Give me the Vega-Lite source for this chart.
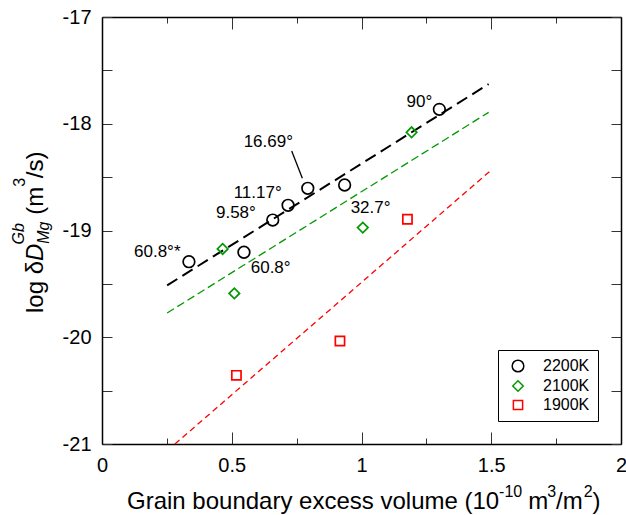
{
  "$schema": "https://vega.github.io/schema/vega-lite/v6.json",
  "width": 519,
  "height": 427,
  "autosize": {"type": "none"},
  "padding": {"left": 102, "top": 17, "right": 5, "bottom": 71},
  "config": {
    "view": {"stroke": null},
    "font": "Liberation Sans",
    "axis": {
      "title": null,
      "domainColor": "black",
      "domainWidth": 1.5,
      "ticks": true,
      "tickColor": "#333333",
      "tickWidth": 1,
      "grid": false,
      "labelFontSize": 20,
      "labelColor": "black",
      "labelFlush": false,
      "labelOverlap": false
    },
    "text": {"font": "Liberation Sans", "color": "black"}
  },
  "datasets": {
    "points": [
      {"T": "2200K", "x": 0.335, "y": -19.292},
      {"T": "2200K", "x": 0.547, "y": -19.204},
      {"T": "2200K", "x": 0.658, "y": -18.902},
      {"T": "2200K", "x": 0.717, "y": -18.764},
      {"T": "2200K", "x": 0.793, "y": -18.605},
      {"T": "2200K", "x": 0.935, "y": -18.574},
      {"T": "2200K", "x": 1.300, "y": -17.865},
      {"T": "2100K", "x": 0.465, "y": -19.173},
      {"T": "2100K", "x": 0.510, "y": -19.589},
      {"T": "2100K", "x": 1.005, "y": -18.973},
      {"T": "2100K", "x": 1.193, "y": -18.080},
      {"T": "1900K", "x": 0.518, "y": -20.357},
      {"T": "1900K", "x": 0.917, "y": -20.035},
      {"T": "1900K", "x": 1.177, "y": -18.895}
    ],
    "black_fit": [{"x": 0.251, "y": -19.514}, {"x": 1.490, "y": -17.628}],
    "green_fit": [{"x": 0.251, "y": -19.773}, {"x": 1.490, "y": -17.893}],
    "red_fit": [{"x": 0.281, "y": -21.0}, {"x": 1.497, "y": -18.44}],
    "labels": [
      {"label": "90°", "x": 1.223, "y": -17.793},
      {"label": "16.69°", "x": 0.641, "y": -18.168},
      {"label": "11.17°", "x": 0.600, "y": -18.646},
      {"label": "9.58°", "x": 0.516, "y": -18.839},
      {"label": "60.8°*", "x": 0.213, "y": -19.204},
      {"label": "60.8°", "x": 0.650, "y": -19.354},
      {"label": "32.7°", "x": 1.035, "y": -18.792}
    ],
    "leader": [{"x": 0.731, "y": -18.255, "x2": 0.772, "y2": -18.511}]
  },
  "layer": [
    {
      "data": {"name": "points"},
      "mark": {"type": "point", "opacity": 0},
      "encoding": {
        "x": {"field": "x", "type": "quantitative", "scale": {"domain": [0, 2]},
          "axis": {"orient": "bottom", "values": [0, 0.25, 0.5, 0.75, 1, 1.25, 1.5, 1.75, 2],
            "labelExpr": "datum.value % 0.5 == 0 ? toString(datum.value) : ''",
            "tickSize": -12, "labelPadding": 23,
            "tickDash": {"condition": {"test": "datum.value % 0.5 == 0", "value": [12, 100]}, "value": [6, 100]}}},
        "y": {"field": "y", "type": "quantitative", "scale": {"domain": [-21, -17]},
          "axis": {"orient": "left", "values": [-21, -20.5, -20, -19.5, -19, -18.5, -18, -17.5, -17],
            "labelExpr": "datum.value % 1 == 0 ? toString(datum.value) : ''",
            "tickSize": -10, "labelPadding": 21}}
      }
    },
    {
      "data": {"name": "points"},
      "mark": {"type": "point", "opacity": 0},
      "encoding": {
        "x": {"field": "x", "type": "quantitative", "scale": {"domain": [0, 2]},
          "axis": {"orient": "top", "values": [0, 0.25, 0.5, 0.75, 1, 1.25, 1.5, 1.75, 2], "labels": false,
            "tickSize": -12,
            "tickDash": {"condition": {"test": "datum.value % 0.5 == 0", "value": [12, 100]}, "value": [6, 100]}}},
        "y": {"field": "y", "type": "quantitative", "scale": {"domain": [-21, -17]},
          "axis": {"orient": "right", "values": [-21, -20.5, -20, -19.5, -19, -18.5, -18, -17.5, -17], "labels": false,
            "tickSize": -10}}
      }
    },
    {
      "data": {"name": "black_fit"},
      "mark": {"type": "line", "color": "black", "strokeWidth": 2, "strokeDash": [12, 6]},
      "encoding": {
        "x": {"field": "x", "type": "quantitative", "scale": {"domain": [0, 2]}, "axis": null},
        "y": {"field": "y", "type": "quantitative", "scale": {"domain": [-21, -17]}, "axis": null}
      }
    },
    {
      "data": {"name": "green_fit"},
      "mark": {"type": "line", "color": "#009900", "strokeWidth": 1.3, "strokeDash": [8, 4]},
      "encoding": {
        "x": {"field": "x", "type": "quantitative", "scale": {"domain": [0, 2]}, "axis": null},
        "y": {"field": "y", "type": "quantitative", "scale": {"domain": [-21, -17]}, "axis": null}
      }
    },
    {
      "data": {"name": "red_fit"},
      "mark": {"type": "line", "color": "#ff0000", "strokeWidth": 1.3, "strokeDash": [6, 4]},
      "encoding": {
        "x": {"field": "x", "type": "quantitative", "scale": {"domain": [0, 2]}, "axis": null},
        "y": {"field": "y", "type": "quantitative", "scale": {"domain": [-21, -17]}, "axis": null}
      }
    },
    {
      "data": {"name": "points"},
      "mark": {"type": "point", "filled": false, "opacity": 1, "strokeWidth": 1.7},
      "encoding": {
        "x": {"field": "x", "type": "quantitative", "scale": {"domain": [0, 2]}, "axis": null},
        "y": {"field": "y", "type": "quantitative", "scale": {"domain": [-21, -17]}, "axis": null},
        "color": {"field": "T", "type": "nominal",
          "scale": {"domain": ["2200K", "2100K", "1900K"], "range": ["black", "#009900", "#ff0000"]},
          "legend": {"orient": "none", "legendX": 396, "legendY": 333, "title": null, "strokeColor": "black",
            "fillColor": "white", "padding": 8, "labelFontSize": 16, "labelColor": "black", "symbolSize": 100,
            "symbolStrokeWidth": 1.5, "rowPadding": 2, "labelOffset": 17, "symbolOffset": 4}},
        "shape": {"field": "T", "type": "nominal",
          "scale": {"domain": ["2200K", "2100K", "1900K"], "range": ["circle", "diamond", "square"]},
          "legend": {"orient": "none", "legendX": 396, "legendY": 333, "title": null, "strokeColor": "black",
            "fillColor": "white", "padding": 8, "labelFontSize": 16, "labelColor": "black", "symbolSize": 100,
            "symbolStrokeWidth": 1.5, "rowPadding": 2, "labelOffset": 17, "symbolOffset": 4}},
        "size": {"field": "T", "type": "ordinal",
          "scale": {"domain": ["2200K", "2100K", "1900K"], "range": [135, 85, 85]}, "legend": null}
      }
    },
    {
      "data": {"name": "labels"},
      "mark": {"type": "text", "fontSize": 17, "align": "center", "baseline": "middle"},
      "encoding": {
        "x": {"field": "x", "type": "quantitative", "scale": {"domain": [0, 2]}, "axis": null},
        "y": {"field": "y", "type": "quantitative", "scale": {"domain": [-21, -17]}, "axis": null},
        "text": {"field": "label"}
      }
    },
    {
      "data": {"name": "leader"},
      "mark": {"type": "rule", "color": "black", "strokeWidth": 1.3},
      "encoding": {
        "x": {"field": "x", "type": "quantitative", "scale": {"domain": [0, 2]}, "axis": null},
        "y": {"field": "y", "type": "quantitative", "scale": {"domain": [-21, -17]}, "axis": null},
        "x2": {"field": "x2"},
        "y2": {"field": "y2"}
      }
    },
    {
      "data": {"values": [{}]},
      "mark": {"type": "text", "text": "log δ", "fontSize": 24, "angle": 270, "align": "left", "baseline": "alphabetic"},
      "encoding": {
        "x": {"datum": -0.2274, "type": "quantitative", "scale": {"domain": [0, 2]}, "axis": null},
        "y": {"datum": -19.773, "type": "quantitative", "scale": {"domain": [-21, -17]}, "axis": null}
      }
    },
    {
      "data": {"values": [{}]},
      "mark": {"type": "text", "text": "D", "fontSize": 24, "fontStyle": "italic", "angle": 270, "align": "left", "baseline": "alphabetic"},
      "encoding": {
        "x": {"datum": -0.2274, "type": "quantitative", "scale": {"domain": [0, 2]}, "axis": null},
        "y": {"datum": -19.286, "type": "quantitative", "scale": {"domain": [-21, -17]}, "axis": null}
      }
    },
    {
      "data": {"values": [{}]},
      "mark": {"type": "text", "text": "Gb", "fontSize": 16, "fontStyle": "italic", "angle": 270, "align": "left", "baseline": "alphabetic"},
      "encoding": {
        "x": {"datum": -0.3006, "type": "quantitative", "scale": {"domain": [0, 2]}, "axis": null},
        "y": {"datum": -19.13, "type": "quantitative", "scale": {"domain": [-21, -17]}, "axis": null}
      }
    },
    {
      "data": {"values": [{}]},
      "mark": {"type": "text", "text": "Mg", "fontSize": 16, "fontStyle": "italic", "angle": 270, "align": "left", "baseline": "alphabetic"},
      "encoding": {
        "x": {"datum": -0.2042, "type": "quantitative", "scale": {"domain": [0, 2]}, "axis": null},
        "y": {"datum": -19.124, "type": "quantitative", "scale": {"domain": [-21, -17]}, "axis": null}
      }
    },
    {
      "data": {"values": [{}]},
      "mark": {"type": "text", "text": "(m", "fontSize": 24, "angle": 270, "align": "left", "baseline": "alphabetic"},
      "encoding": {
        "x": {"datum": -0.2274, "type": "quantitative", "scale": {"domain": [0, 2]}, "axis": null},
        "y": {"datum": -18.853, "type": "quantitative", "scale": {"domain": [-21, -17]}, "axis": null}
      }
    },
    {
      "data": {"values": [{}]},
      "mark": {"type": "text", "text": "3", "fontSize": 16, "angle": 270, "align": "left", "baseline": "alphabetic"},
      "encoding": {
        "x": {"datum": -0.2966, "type": "quantitative", "scale": {"domain": [0, 2]}, "axis": null},
        "y": {"datum": -18.591, "type": "quantitative", "scale": {"domain": [-21, -17]}, "axis": null}
      }
    },
    {
      "data": {"values": [{}]},
      "mark": {"type": "text", "text": "/s)", "fontSize": 24, "angle": 270, "align": "left", "baseline": "alphabetic"},
      "encoding": {
        "x": {"datum": -0.2274, "type": "quantitative", "scale": {"domain": [0, 2]}, "axis": null},
        "y": {"datum": -18.51, "type": "quantitative", "scale": {"domain": [-21, -17]}, "axis": null}
      }
    },
    {
      "data": {"values": [{}]},
      "mark": {"type": "text", "text": "Grain boundary excess volume (10", "fontSize": 24, "align": "left", "baseline": "alphabetic"},
      "encoding": {
        "x": {"datum": 0.0963, "type": "quantitative", "scale": {"domain": [0, 2]}, "axis": null},
        "y": {"datum": -21.609, "type": "quantitative", "scale": {"domain": [-21, -17]}, "axis": null}
      }
    },
    {
      "data": {"values": [{}]},
      "mark": {"type": "text", "text": "-10", "fontSize": 16, "align": "left", "baseline": "alphabetic"},
      "encoding": {
        "x": {"datum": 1.5303, "type": "quantitative", "scale": {"domain": [0, 2]}, "axis": null},
        "y": {"datum": -21.496, "type": "quantitative", "scale": {"domain": [-21, -17]}, "axis": null}
      }
    },
    {
      "data": {"values": [{}]},
      "mark": {"type": "text", "text": "m", "fontSize": 24, "align": "left", "baseline": "alphabetic"},
      "encoding": {
        "x": {"datum": 1.643, "type": "quantitative", "scale": {"domain": [0, 2]}, "axis": null},
        "y": {"datum": -21.609, "type": "quantitative", "scale": {"domain": [-21, -17]}, "axis": null}
      }
    },
    {
      "data": {"values": [{}]},
      "mark": {"type": "text", "text": "3", "fontSize": 16, "align": "left", "baseline": "alphabetic"},
      "encoding": {
        "x": {"datum": 1.716, "type": "quantitative", "scale": {"domain": [0, 2]}, "axis": null},
        "y": {"datum": -21.496, "type": "quantitative", "scale": {"domain": [-21, -17]}, "axis": null}
      }
    },
    {
      "data": {"values": [{}]},
      "mark": {"type": "text", "text": "/m", "fontSize": 24, "align": "left", "baseline": "alphabetic"},
      "encoding": {
        "x": {"datum": 1.7495, "type": "quantitative", "scale": {"domain": [0, 2]}, "axis": null},
        "y": {"datum": -21.609, "type": "quantitative", "scale": {"domain": [-21, -17]}, "axis": null}
      }
    },
    {
      "data": {"values": [{}]},
      "mark": {"type": "text", "text": "2", "fontSize": 16, "align": "left", "baseline": "alphabetic"},
      "encoding": {
        "x": {"datum": 1.8563, "type": "quantitative", "scale": {"domain": [0, 2]}, "axis": null},
        "y": {"datum": -21.496, "type": "quantitative", "scale": {"domain": [-21, -17]}, "axis": null}
      }
    },
    {
      "data": {"values": [{}]},
      "mark": {"type": "text", "text": ")", "fontSize": 24, "align": "left", "baseline": "alphabetic"},
      "encoding": {
        "x": {"datum": 1.8898, "type": "quantitative", "scale": {"domain": [0, 2]}, "axis": null},
        "y": {"datum": -21.609, "type": "quantitative", "scale": {"domain": [-21, -17]}, "axis": null}
      }
    }
  ],
  "resolve": {"axis": {"x": "independent", "y": "independent"}}
}
